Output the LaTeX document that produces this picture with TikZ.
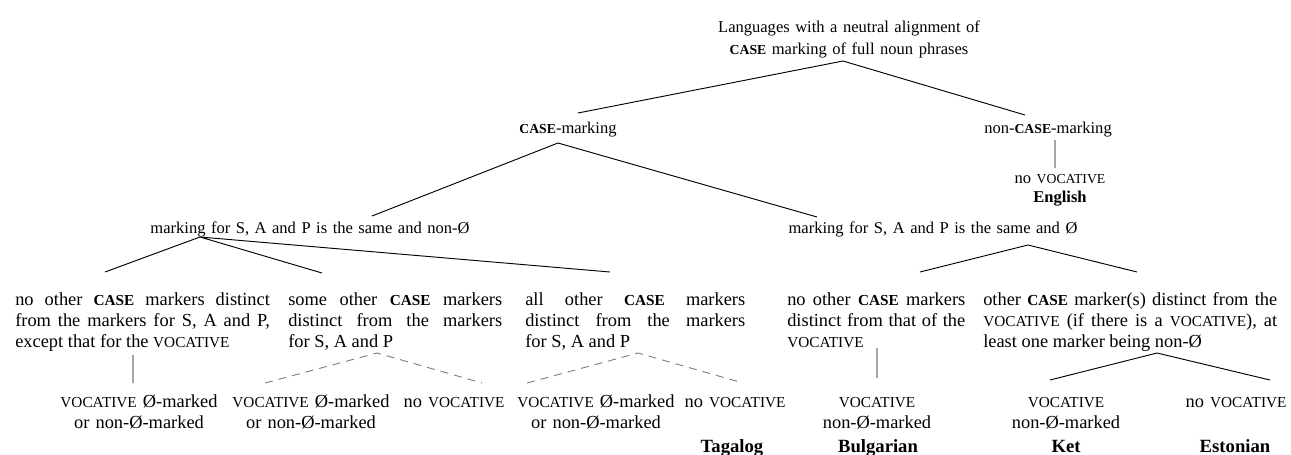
\documentclass[tikz,border=0pt]{standalone}
\usepackage{fontspec}
\setmainfont{Liberation Serif}
\makeatletter
\newcommand{\smc}[1]{{\fontsize{0.83\dimexpr\f@size pt\relax}{\baselineskip}\selectfont #1}}
\makeatother
\newcommand{\CASE}{\textbf{\smc{CASE}}}
\newcommand{\VOC}{\smc{VOCATIVE}}
\tikzset{
  upper/.style={font=\fontsize{12.4pt}{16.5pt}\selectfont},
  lower/.style={font=\fontsize{13.8pt}{15.8pt}\selectfont},
  lab/.style={anchor=base, inner sep=0pt, align=center, text width=#1},
  lab/.default=200pt,
  leaf/.style={lower, lab=#1},
  leaf/.default=130pt,
  para/.style={lower, anchor=base west, inner sep=0pt, align=justify, text width=#1},
  lang/.style={anchor=base, inner sep=0pt, font=\fontsize{14pt}{16pt}\selectfont\bfseries},
  branch/.style={line width=0.7pt},
  optional/.style={line width=0.7pt, gray, dash pattern=on 6pt off 4.5pt}
}
\begin{document}
\begin{tikzpicture}[x=0.75pt,y=-0.75pt,upper]
	\useasboundingbox (0,0) rectangle (1291,454);
	% top levels
	\node[lab=260pt] (root) at (849,32) {Languages with a neutral alignment of\\ \CASE{} marking of full noun phrases};
	\node[lab] (cm) at (568,133) {\CASE-marking};
	\node[lab] (ncm) at (1048,133) {non-\CASE-marking};
	\node[lab] (eng) at (1060,183) {no \VOC};
	\node[lab] (english) at (1060,202) {\textbf{English}};
	\node[lab=300pt] (nn) at (310,233) {marking for S, A and P is the same and non-Ø};
	\node[lab=300pt] (zero) at (933,233) {marking for S, A and P is the same and Ø};
	% third level
	\node[para=191pt] (b1) at (15,305) {no other \CASE{} markers distinct\linebreak from the markers for S, A and P,\linebreak except that for the \VOC};
	\node[para=160.5pt] (b2) at (288,305) {some other \CASE{} markers\linebreak distinct from the markers\linebreak for S, A and P};
	\node[para=165pt] (b3) at (525,305) {all other \CASE{} markers\linebreak distinct from the markers\linebreak for S, A and P};
	\node[para=133.5pt] (b4) at (787,305) {no other \CASE{} markers\linebreak distinct from that of the\linebreak \VOC};
	\node[para=220.5pt] (b5) at (983,305) {other \CASE{} marker(s) distinct from the\linebreak \VOC{} (if there is a \VOC), at\linebreak least one marker being non-Ø};
	% leaves
	\node[leaf] (l1) at (139,407) {\VOC{} Ø-marked\\or non-Ø-marked};
	\node[leaf] (l2) at (311,407) {\VOC{} Ø-marked\\or non-Ø-marked};
	\node[leaf=90pt] (l3) at (454,407) {no \VOC};
	\node[leaf] (l4) at (596,407) {\VOC{} Ø-marked\\or non-Ø-marked};
	\node[leaf=90pt] (l5) at (735,407) {no \VOC};
	\node[leaf=110pt] (l6) at (877,407) {\VOC\\non-Ø-marked};
	\node[leaf=110pt] (l7) at (1066,407) {\VOC\\non-Ø-marked};
	\node[leaf=90pt] (l8) at (1236,407) {no \VOC};
	\node[lang] (tagalog) at (732,452) {Tagalog};
	\node[lang] (bulgarian) at (878,452) {Bulgarian};
	\node[lang] (ket) at (1066,452) {Ket};
	\node[lang] (estonian) at (1235,452) {Estonian};
	% branch points
	\coordinate (root-a) at (843,61);
	\coordinate (cm-t) at (578,113);
	\coordinate (ncm-t) at (1025,115);
	\coordinate (cm-a) at (558,143);
	\coordinate (nn-t) at (372,216);
	\coordinate (zero-t) at (817,217);
	\coordinate (ncm-a) at (1055,140);
	\coordinate (eng-t) at (1055,168);
	\coordinate (nn-a) at (200,237);
	\coordinate (b1-t) at (105,272);
	\coordinate (b2-t) at (322,273);
	\coordinate (b3-t) at (610,272);
	\coordinate (zero-a) at (1028,245);
	\coordinate (b4-t) at (920,272);
	\coordinate (b5-t) at (1137,272);
	\coordinate (b1-a) at (133,355);
	\coordinate (l1-t) at (133,383);
	\coordinate (b2-a) at (377,353);
	\coordinate (l2-t) at (265,383);
	\coordinate (l3-t) at (482,383);
	\coordinate (b3-a) at (638,353);
	\coordinate (l4-t) at (527,383);
	\coordinate (l5-t) at (743,383);
	\coordinate (b4-a) at (877,348);
	\coordinate (l6-t) at (877,378);
	\coordinate (b5-a) at (1157,353);
	\coordinate (l7-t) at (1050,380);
	\coordinate (l8-t) at (1270,380);
	\draw[branch] (cm-t)--(root-a)--(ncm-t) (nn-t)--(cm-a)--(zero-t) (ncm-a)--(eng-t);
	\draw[branch] (b1-t)--(nn-a)--(b2-t) (nn-a)--(b3-t) (b4-t)--(zero-a)--(b5-t);
	\draw[branch] (b1-a)--(l1-t) (b4-a)--(l6-t) (l7-t)--(b5-a)--(l8-t);
	\draw[optional] (l2-t)--(b2-a)--(l3-t) (l4-t)--(b3-a)--(l5-t);
\end{tikzpicture}
\end{document}
